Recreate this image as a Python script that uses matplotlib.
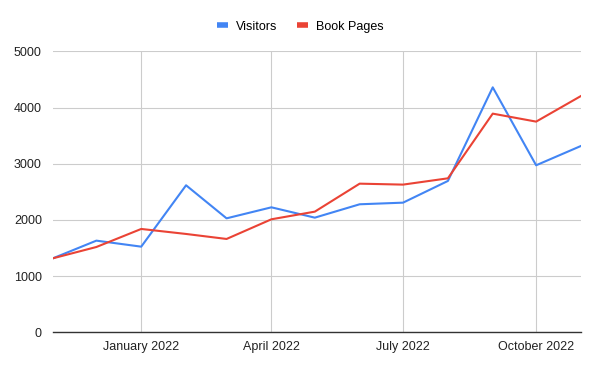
import pandas as pd
import matplotlib
matplotlib.use("Agg")
import matplotlib.pyplot as plt

# ========== DATA ==========

months = pd.date_range("2021-11-01", "2022-11-01", freq="MS")
visitors = [1317, 1631, 1524, 2616, 2028, 2224, 2040, 2278, 2307, 2693, 4359, 2972, 3316]
book_pages = [1317, 1518, 1839, 1750, 1661, 2011, 2147, 2645, 2628, 2740, 3891, 3749, 4205]
quarter_ticks = pd.to_datetime(["2022-01-01", "2022-04-01", "2022-07-01", "2022-10-01"])
quarter_labels = ["January 2022", "April 2022", "July 2022", "October 2022"]

# ========== PLOT ==========

plt.rcParams["font.family"] = ["Liberation Sans", "DejaVu Sans"]

fig = plt.figure(figsize=(6, 3.71), dpi=100)
ax = fig.add_axes([0.0883, 0.1043, 0.8800, 0.7574])

ax.plot(months, visitors, color="#4285F4", lw=1.5, label="Visitors", zorder=3)
ax.plot(months, book_pages, color="#EA4335", lw=1.5, label="Book Pages", zorder=3)

ax.set_xlim(months[0], months[-1])
ax.set_ylim(0, 5000)
ax.set_yticks(range(0, 5001, 1000))
ax.set_xticks(quarter_ticks)
ax.set_xticklabels(quarter_labels)

ax.grid(True, color="#cccccc", lw=0.8)
ax.set_axisbelow(True)
for s in ["top", "right", "left"]:
    ax.spines[s].set_visible(False)
ax.spines["bottom"].set_color("#333333")
ax.spines["bottom"].set_linewidth(1.0)
ax.spines["bottom"].set_zorder(4)
ax.tick_params(length=0, labelsize=9, colors="#222222", pad=6)
ax.tick_params(axis="y", pad=8)

# legend on top, centred
leg = fig.legend(loc="upper center", bbox_to_anchor=(0.5, 0.975), ncol=2, frameon=False,
                 fontsize=9, handlelength=0.9, handletextpad=0.6, columnspacing=1.6)
for h in leg.get_lines():
    h.set_linewidth(4)
    h.set_solid_capstyle("butt")

plt.savefig("out.png", dpi=100)
